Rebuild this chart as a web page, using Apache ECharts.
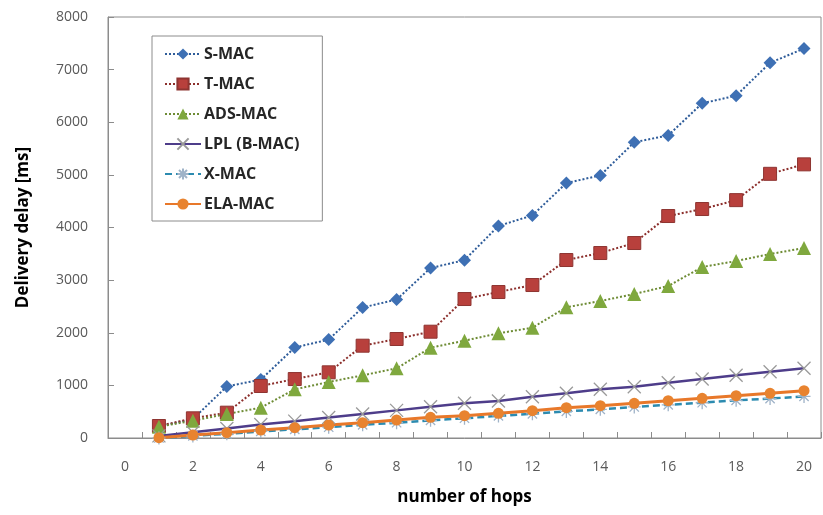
<!DOCTYPE html>
<html>
<head>
<meta charset="utf-8">
<script src="https://cdn.jsdelivr.net/npm/echarts@6/dist/echarts.min.js"></script>
<style>
html,body{margin:0;padding:0;background:#fff;}
#c{width:823px;height:515px;}
</style>
</head>
<body>
<div id="c"></div>
<script>
var categories = ['0','1','2','3','4','5','6','7','8','9','10','11','12','13','14','15','16','17','18','19','20'];
var sMac   = ['-', 220, 360, 980, 1110, 1720, 1870, 2480, 2630, 3230, 3380, 4030, 4230, 4845, 4990, 5620, 5750, 6360, 6505, 7130, 7400];
var tMac   = ['-', 228, 374, 481, 988, 1120, 1248, 1754, 1881, 2020, 2641, 2774, 2907, 3382, 3515, 3705, 4218, 4351, 4520, 5020, 5200];
var adsMac = ['-', 215, 329, 456, 576, 925, 1064, 1191, 1324, 1716, 1850, 1989, 2096, 2483, 2603, 2736, 2888, 3249, 3363, 3496, 3610];
var lplMac = ['-', 40, 110, 180, 255, 320, 390, 455, 525, 595, 659, 703, 785, 849, 925, 975, 1051, 1121, 1191, 1260, 1324];
var xMac   = ['-', 0, 40, 80, 125, 165, 205, 250, 290, 335, 375, 420, 460, 505, 545, 590, 630, 670, 715, 750, 790];
var elaMac = ['-', 6, 57, 101, 152, 196, 247, 291, 342, 393, 424, 469, 519, 576, 614, 659, 709, 754, 804, 849, 899];

var xSym = 'path://M0,0L10,10M10,0L0,10';
var astSym = 'path://M0,0L10,10M10,0L0,10M5,-2L5,12M-2,5L12,5';

var font = 'Open Sans, Liberation Sans, sans-serif';
var chart = echarts.init(document.getElementById('c'));
chart.setOption({
  animation: false,
  backgroundColor: '#fff',
  grid: {left: 108, top: 17, right: 2, bottom: 77, show: true, borderColor: '#8c8c8c', borderWidth: 1},
  legend: {
    orient: 'vertical', left: 152, top: 36,
    padding: [10, 23, 9, 12],
    itemWidth: 36, itemHeight: 14, itemGap: 14,
    borderColor: '#8c8c8c', borderWidth: 1,
    textStyle: {fontFamily: font, fontWeight: 'bold', fontSize: 16, color: '#262626', padding: [0,0,0,-2]},
    data: ['S-MAC','T-MAC','ADS-MAC','LPL (B-MAC)','X-MAC','ELA-MAC']
  },
  xAxis: {
    type: 'category', data: categories, boundaryGap: true,
    name: 'number of hops', nameLocation: 'middle', nameGap: 51,
    nameTextStyle: {fontFamily: font, fontWeight: 'bold', fontSize: 17, color: '#000'},
    axisLine: {lineStyle: {color: '#8c8c8c', width: 1}},
    axisTick: {show: true, inside: true, length: 6, interval: 0, lineStyle: {color: '#8c8c8c'}},
    axisLabel: {interval: 1, margin: 22, fontFamily: font, fontSize: 14, color: '#595959'},
    splitLine: {show: false}
  },
  yAxis: {
    type: 'value', min: 0, max: 8000, interval: 1000,
    name: 'Delivery delay [ms]', nameLocation: 'middle', nameGap: 76, nameRotate: 90,
    nameTextStyle: {fontFamily: font, fontWeight: 'bold', fontSize: 17, color: '#000'},
    axisLine: {show: true, lineStyle: {color: '#8c8c8c', width: 1}},
    axisTick: {show: true, inside: true, length: 6, lineStyle: {color: '#8c8c8c'}},
    axisLabel: {margin: 20, fontFamily: font, fontSize: 14, color: '#595959',
                formatter: function (v) { return String(v); }},
    splitLine: {show: false}
  },
  series: [
    {name: 'S-MAC', type: 'line', data: sMac, symbol: 'diamond', symbolSize: 13,
     lineStyle: {color: '#2E5C9A', width: 2, type: 'dotted'},
     itemStyle: {color: '#3E70B4'}},
    {name: 'T-MAC', type: 'line', data: tMac, symbol: 'rect', symbolSize: 13,
     lineStyle: {color: '#8C2F2C', width: 2, type: 'dotted'},
     itemStyle: {color: '#B8403C', borderColor: '#8E3431', borderWidth: 1}},
    {name: 'ADS-MAC', type: 'line', data: adsMac, symbol: 'triangle', symbolSize: 14,
     lineStyle: {color: '#6E8C35', width: 2, type: 'dotted'},
     itemStyle: {color: '#7FA83E'}},
    {name: 'LPL (B-MAC)', type: 'line', data: lplMac, symbol: xSym, symbolSize: 13,
     lineStyle: {color: '#4E3D8A', width: 2.5},
     itemStyle: {color: '#9a9a9a', borderColor: '#9a9a9a', borderWidth: 1.3}},
    {name: 'X-MAC', type: 'line', data: xMac, symbol: astSym, symbolSize: 13,
     lineStyle: {color: '#2C8BB0', width: 2.5, type: [7, 4]},
     itemStyle: {color: '#9fb3c8', borderColor: '#9fb3c8', borderWidth: 1.3}},
    {name: 'ELA-MAC', type: 'line', data: elaMac, symbol: 'circle', symbolSize: 11,
     lineStyle: {color: '#E8782A', width: 3},
     itemStyle: {color: '#E8832F'}}
  ]
});
</script>
</body>
</html>
